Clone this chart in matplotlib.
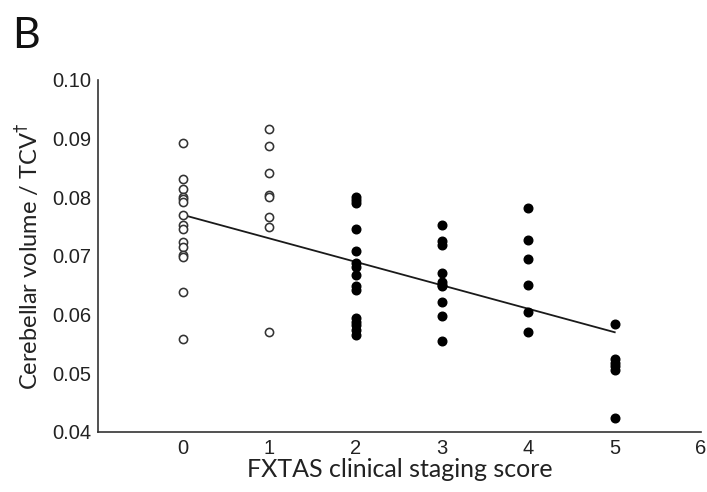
import numpy as np
import matplotlib
matplotlib.use("Agg")
import matplotlib.pyplot as plt

# values
ctrl_x = [0] * 15 + [1] * 8
ctrl_y = [0.0892, 0.0831, 0.0814, 0.0801, 0.0797, 0.0792, 0.0770, 0.0752,
          0.0746, 0.0723, 0.0716, 0.0702, 0.0698, 0.0639, 0.0559,
          0.0916, 0.0888, 0.0841, 0.0804, 0.0800, 0.0767, 0.0749, 0.0570]

fxtas_stage = [2] * 15 + [3] * 10 + [4] * 6 + [5] * 6
fxtas_y = [0.0801, 0.0796, 0.0790, 0.0746, 0.0708, 0.0688, 0.0682, 0.0667,
           0.0648, 0.0642, 0.0594, 0.0588, 0.0583, 0.0574, 0.0566,
           0.0753, 0.0725, 0.0718, 0.0671, 0.0656, 0.0651, 0.0648, 0.0621,
           0.0598, 0.0555,
           0.0781, 0.0727, 0.0695, 0.0651, 0.0605, 0.0571,
           0.0584, 0.0524, 0.0517, 0.0512, 0.0505, 0.0424]

fit_intercept = 0.0770
fit_slope = -0.0040
fit_range = [0, 5]

xticks = [0, 1, 2, 3, 4, 5, 6]
yticks = [0.04, 0.05, 0.06, 0.07, 0.08, 0.09, 0.10]

fig = plt.figure(figsize=(7.07, 4.92), dpi=100)
ax = fig.add_axes([0.1386, 0.122, 0.853, 0.7154])

ax.plot(ctrl_x, ctrl_y, "o", ms=5.9, mfc="white", mec="#333333", mew=1.15,
        zorder=3)
ax.plot(fxtas_stage, fxtas_y, "o", ms=6.2, color="black", zorder=3)

fx = np.array(fit_range)
ax.plot(fx, fit_intercept + fit_slope * fx, color="#1a1a1a", lw=1.3, zorder=2)

ax.set_xlim(-0.985, 6)
ax.set_ylim(0.04, 0.10)
ax.set_xticks(xticks)
ax.set_yticks(yticks)
ax.set_yticklabels(["%.2f" % v for v in yticks])

for side in ["top", "right"]:
    ax.spines[side].set_visible(False)
for side in ["left", "bottom"]:
    ax.spines[side].set_color("#333333")
    ax.spines[side].set_linewidth(1.2)

ax.tick_params(length=0, labelsize=14.5, colors="#222222", pad=5)
for lab in ax.get_xticklabels() + ax.get_yticklabels():
    lab.set_family("Liberation Sans")

ax.set_xlabel("FXTAS clinical staging score", fontsize=18,
              family="Lato", color="#222222", labelpad=0)
ax.set_ylabel(r"Cerebellar volume / TCV$^{\dagger}$", fontsize=17,
              family="Lato", color="#222222", labelpad=7)

fig.text(0.017, 0.965, "B", fontsize=31, family="Lato", va="top",
         ha="left", color="#111111")

fig.savefig("out.png", dpi=100)
